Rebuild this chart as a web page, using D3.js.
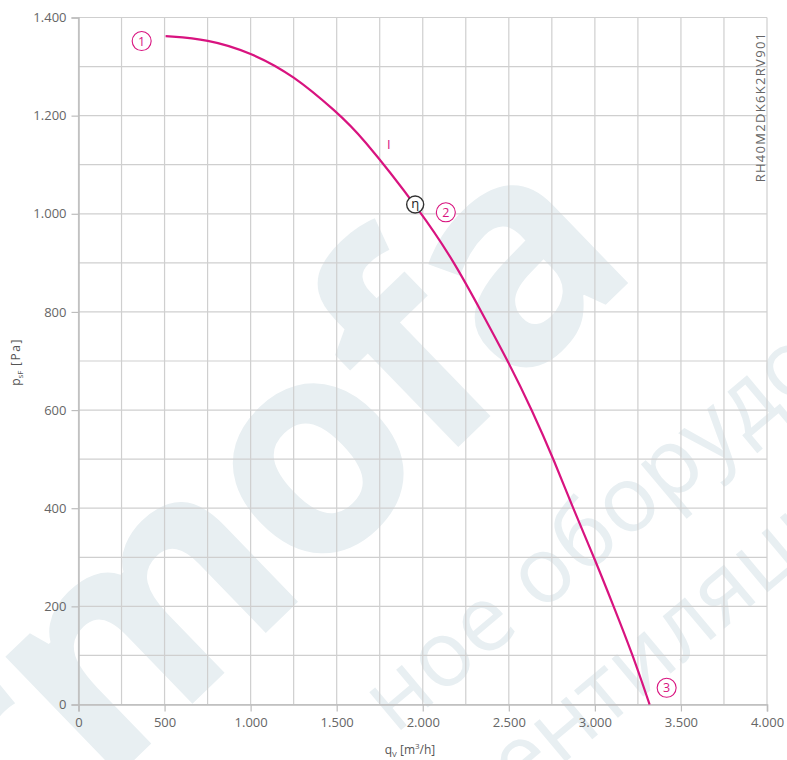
<!doctype html>
<html>
<head>
<meta charset="utf-8">
<script src="https://cdn.jsdelivr.net/npm/d3@7"></script>
<style>
  body { margin: 0; background: #fff; }
  text { font-family: "Open Sans", "DejaVu Sans", sans-serif; }
</style>
</head>
<body>
<div id="chart"></div>
<script>
// fan curve
var flow = [506, 750, 1000, 1250, 1500, 1634, 1992, 2186, 2341, 2495, 2635, 2766, 2873, 2995, 3109, 3221, 3318];
var pressure = [1362, 1356, 1329, 1282, 1207, 1163, 1003, 900, 800, 700, 600, 495, 400, 300, 200, 100, 0];

var xTicks = [0, 500, 1000, 1500, 2000, 2500, 3000, 3500, 4000];
var yTicks = [0, 200, 400, 600, 800, 1000, 1200, 1400];
var xGrid = d3.range(0, 4001, 250);
var yGrid = d3.range(0, 1401, 100);

// numbered markers along the curve: [label, q, p]
var markers = [["1", 367, 1352], ["2", 2134, 1003], ["3", 3417, 34]];
var etaPoint = [1956, 1019];
var curveLabel = ["I", 1803, 1143];

var W = 787, H = 760;
var svg = d3.select("#chart").append("svg").attr("width", W).attr("height", H);

var x = d3.scaleLinear().domain([0, 4000]).range([78.5, 767]);
var y = d3.scaleLinear().domain([0, 1400]).range([704.5, 17.5]);

var fmt = d3.formatLocale({decimal: ",", thousands: ".", grouping: [3], currency: ["", ""]}).format(",");

// faint watermark behind everything
var wm = svg.append("g").attr("fill", "#e8eff2");
wm.append("text").attr("transform", "translate(10,880) rotate(-44)")
  .attr("font-size", 300).attr("font-weight", "bold").attr("letter-spacing", -8)
  .text("rmofa");
wm.append("text").attr("transform", "translate(395,735) rotate(-40)")
  .attr("font-size", 92).text("ное оборудо");
wm.append("text").attr("transform", "translate(520,800) rotate(-40)")
  .attr("font-size", 92).text("ентиляци");

// grid
svg.append("g").selectAll("line").data(xGrid).enter().append("line")
  .attr("x1", function(d){ return x(d); }).attr("x2", function(d){ return x(d); })
  .attr("y1", y(0)).attr("y2", y(1400))
  .attr("stroke", "#cfcfcf").attr("stroke-width", 1.2);
svg.append("g").selectAll("line").data(yGrid).enter().append("line")
  .attr("x1", x(0)).attr("x2", x(4000))
  .attr("y1", function(d){ return y(d); }).attr("y2", function(d){ return y(d); })
  .attr("stroke", "#cfcfcf").attr("stroke-width", 1.2);

// axes
var xAxis = svg.append("g").attr("transform", "translate(0," + y(0) + ")")
  .call(d3.axisBottom(x).tickValues(xTicks).tickFormat(fmt).tickSize(7).tickPadding(6));
var yAxis = svg.append("g").attr("transform", "translate(" + x(0) + ",0)")
  .call(d3.axisLeft(y).tickValues(yTicks).tickFormat(fmt).tickSize(7).tickPadding(5));
[xAxis, yAxis].forEach(function(a){
  a.select(".domain").attr("stroke", "#bdbdbd").attr("stroke-width", 1.5);
  a.selectAll(".tick line").attr("stroke", "#bdbdbd").attr("stroke-width", 1.2);
  a.selectAll(".tick text").attr("fill", "#666").attr("font-size", 13)
    .attr("font-family", "'Open Sans', sans-serif");
});

// axis titles
var xt = svg.append("text").attr("x", 410).attr("y", 754).attr("text-anchor", "middle")
  .attr("font-size", 12).attr("fill", "#555");
xt.append("tspan").text("q");
xt.append("tspan").attr("font-size", 8).attr("dy", 3).text("V");
xt.append("tspan").attr("dy", -3).text(" [m");
xt.append("tspan").attr("font-size", 8).attr("dy", -5).text("3");
xt.append("tspan").attr("dy", 5).text("/h]");

var yt = svg.append("text").attr("transform", "translate(20,362) rotate(-90)")
  .attr("text-anchor", "middle").attr("font-size", 12).attr("fill", "#555");
yt.append("tspan").text("p");
yt.append("tspan").attr("font-size", 8).attr("dy", 3).text("sF");
yt.append("tspan").attr("dy", -3).attr("letter-spacing", 1.5).text(" [Pa]");

// model code on the right
svg.append("text").attr("transform", "translate(765,107) rotate(-90)")
  .attr("text-anchor", "middle").attr("font-size", 13).attr("fill", "#666")
  .attr("letter-spacing", 1.3).text("RH40M2DK6K2RV901");

// curve
var pts = flow.map(function(q, i){ return [q, pressure[i]]; });
var line = d3.line().x(function(d){ return x(d[0]); }).y(function(d){ return y(d[1]); })
  .curve(d3.curveBasis);
svg.append("path").datum(pts).attr("d", line)
  .attr("fill", "none").attr("stroke", "#d8137f").attr("stroke-width", 2.2);

// markers
var mk = svg.append("g").selectAll("g").data(markers).enter().append("g")
  .attr("transform", function(d){ return "translate(" + x(d[1]) + "," + y(d[2]) + ")"; });
mk.append("circle").attr("r", 9.5).attr("fill", "#fff").attr("stroke", "#d8137f").attr("stroke-width", 1.1);
mk.append("text").attr("text-anchor", "middle").attr("dy", 4.5).attr("font-size", 12.5)
  .attr("fill", "#d8137f").text(function(d){ return d[0]; });

var eta = svg.append("g").attr("transform", "translate(" + x(etaPoint[0]) + "," + y(etaPoint[1]) + ")");
eta.append("circle").attr("r", 8.5).attr("fill", "#fff").attr("stroke", "#333").attr("stroke-width", 1.4);
eta.append("text").attr("text-anchor", "middle").attr("dy", 4).attr("font-size", 13)
  .attr("fill", "#222").text("η");

svg.append("text").attr("x", x(curveLabel[1])).attr("y", y(curveLabel[2]))
  .attr("text-anchor", "middle").attr("dy", 5).attr("font-size", 13).attr("fill", "#d8137f")
  .text(curveLabel[0]);
</script>
</body>
</html>
